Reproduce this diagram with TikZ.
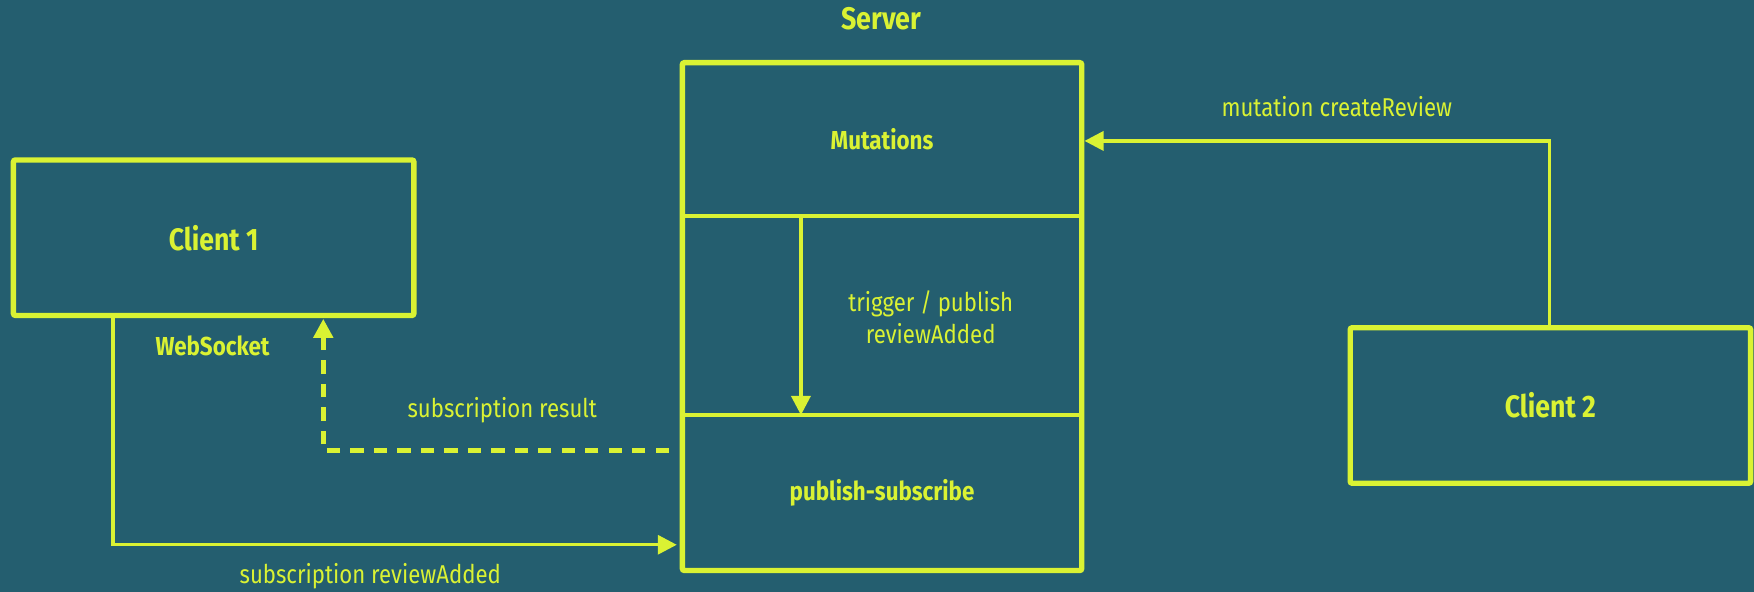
\documentclass[tikz,border=0pt]{standalone}
\usepackage{fontspec}
\setmainfont{Fira Sans}[FakeStretch=0.86]
\usetikzlibrary{arrows.meta}
\definecolor{bg}{HTML}{245E6F}
\definecolor{fg}{HTML}{DAF233}
\def\u{0.5593pt}
\begin{document}
\begin{tikzpicture}[x=\u,y=-\u,
  every node/.style={text=fg, inner sep=0pt, outer sep=0pt},
  box/.style={draw=fg, line width=4.8*\u, rounded corners=1pt, minimum width=358*\u, minimum height=139*\u, font=\bfseries\fontsize{15.5}{17}\selectfont},
  region/.style={minimum width=357*\u},
  conn/.style={draw=fg, line width=3*\u, -{Triangle[length=17*\u,width=17*\u]}},
  lbl/.style={font=\fontsize{12.9}{15}\selectfont, align=center}]
\fill[bg] (0,0) rectangle (1568,529.2);
\useasboundingbox (0,0) rectangle (1568,529.2);

% clients
\node[box] (c1) at (191,212.5) {Client 1};
\node[box] (c2) at (1386,362.5) {Client 2};

% server
\node[draw=fg, line width=4.8*\u, rounded corners=1pt, minimum width=357*\u, minimum height=454*\u] (server) at (788.5,283) {};
\node[region, minimum height=137*\u, font=\bfseries\fontsize{13}{15}\selectfont] (mut) at (788.5,124.5) {Mutations};
\node[region, minimum height=178*\u] (mid) at (788.5,282) {};
\node[region, minimum height=139*\u, font=\bfseries\fontsize{13}{15}\selectfont] (pub) at (788.5,440.5) {publish-subscribe};
\draw[fg, line width=3.4*\u] (mut.south west) -- (mut.south east);
\draw[fg, line width=3.4*\u] (pub.north west) -- (pub.north east);
\node[font=\bfseries\fontsize{15.6}{17}\selectfont] (srvlbl) at (788,17) {Server};

% coordinates
\coordinate (wsx) at (101,487);
\coordinate (resx) at (289,403);
\coordinate (c2x) at (1385,126);
\coordinate (trx) at (716,0);

% connectors
\draw[conn] (c1.south -| wsx) |- ([xshift=-5*\u]pub.west |- wsx);
\draw[conn, line width=4.2*\u, dash pattern=on 12*\u off 9*\u] ([xshift=-12*\u]pub.west |- resx) -| ([yshift=-3*\u]c1.south -| resx);
\draw[conn] (c2.north -| c2x) |- ([xshift=2.5*\u]mut.east |- c2x);
\draw[conn] (mut.south -| trx) -- (pub.north -| trx);

% labels
\node[font=\bfseries\fontsize{13}{15}\selectfont] (ws) at (190,309) {WebSocket};
\node[lbl] (trig) at (832,284) {trigger / publish\\[1pt]reviewAdded};
\node[lbl] (subres) at (449,367) {subscription result};
\node[lbl] (subadd) at (331,515) {subscription reviewAdded};
\node[lbl] (mutlbl) at (1195,95) {mutation createReview};
\end{tikzpicture}
\end{document}
